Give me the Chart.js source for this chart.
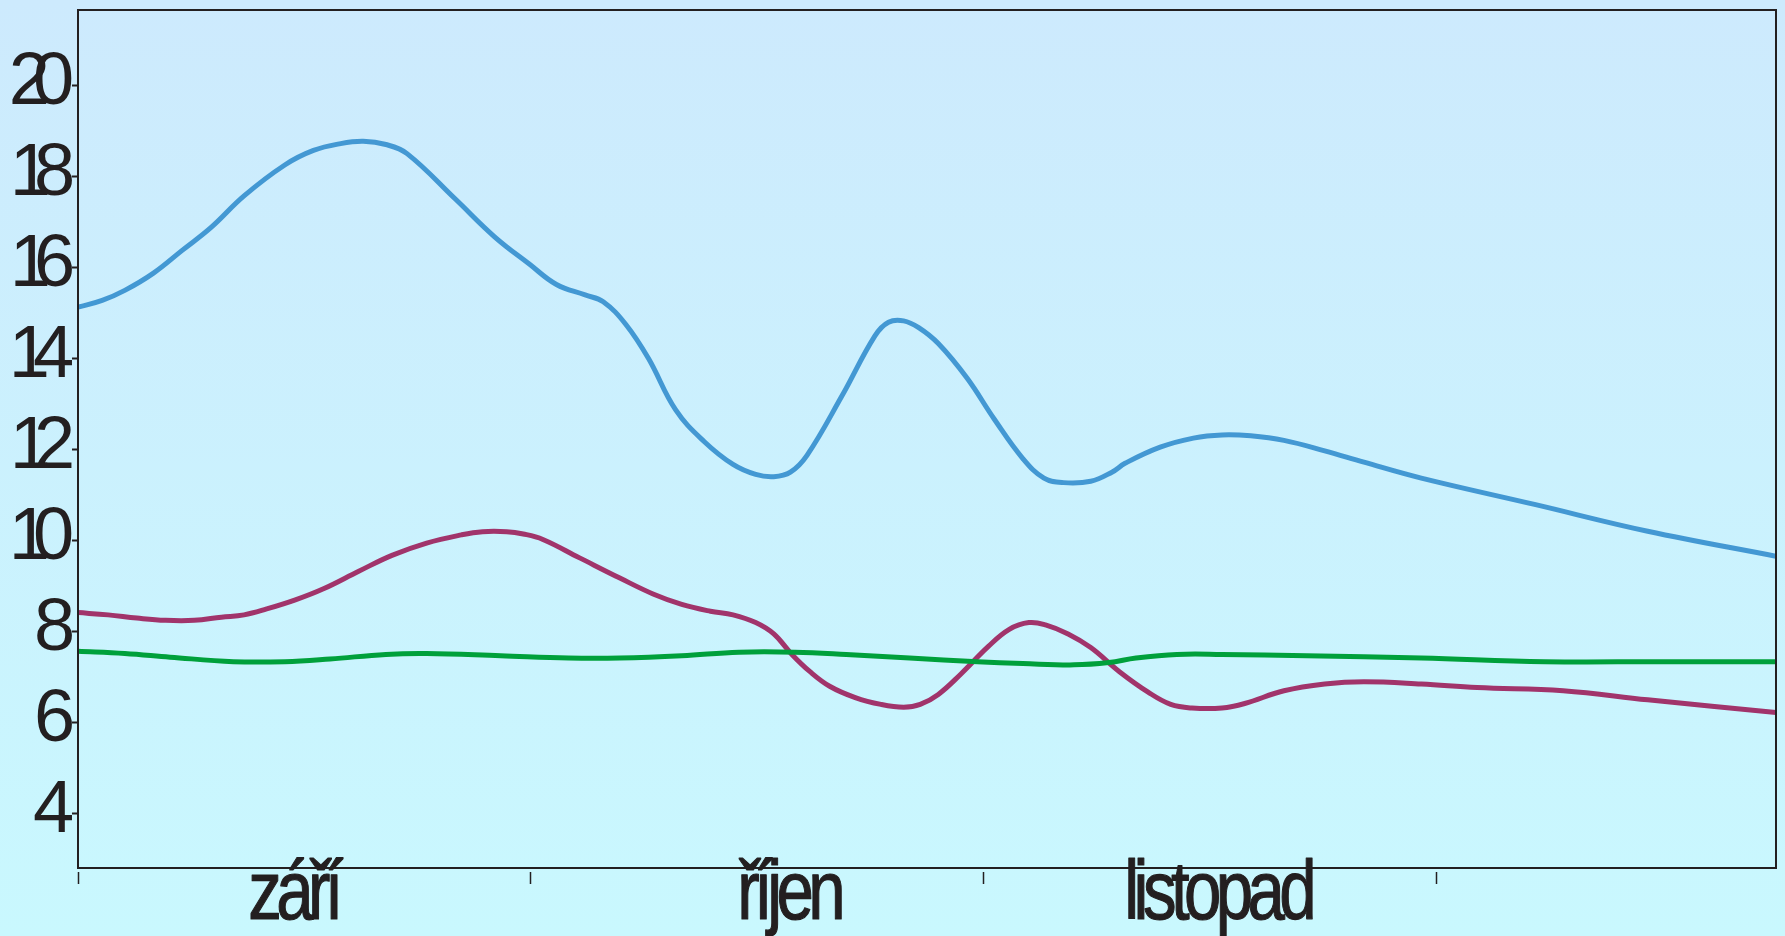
<!DOCTYPE html>
<html><head><meta charset="utf-8">
<script src="https://cdn.jsdelivr.net/npm/chart.js@4/dist/chart.umd.min.js"></script>
<style>
html,body{margin:0;padding:0;width:1785px;height:936px;overflow:hidden;background:linear-gradient(to bottom,#cdeafd,#c9f8fe);}
canvas{display:block;}
</style></head><body>
<canvas id="c" width="1785" height="936"></canvas>
<script>
// ---- data ----
const monthLabels = ['září', 'říjen', 'listopad'];
const monthLabelDays = [14.5, 47.2, 75.7];
const monthTickDays = [0, 30, 60, 90];
const yTickValues = [4, 6, 8, 10, 12, 14, 16, 18, 20];

const blueDays = [0, 1.6, 3.1, 5.0, 6.9, 8.8, 11.0, 13.7, 15.6, 17.4, 18.9, 20.4, 21.8, 25.0, 27.6, 29.9, 31.7, 33.6, 34.8, 36.3, 37.8, 39.6, 41.5, 43.4, 44.9, 46.1, 47.2, 48.3, 50.6, 52.8, 53.7, 54.7, 55.7, 57.0, 58.9, 60.7, 62.6, 64.0, 65.3, 67.1, 68.5, 69.4, 71.7, 73.9, 75.8, 77.7, 79.9, 82.6, 85.2, 89.0, 96.5, 104.0, 112.5];
const blueValues = [15.13, 15.28, 15.5, 15.88, 16.38, 16.88, 17.58, 18.26, 18.58, 18.73, 18.78, 18.71, 18.51, 17.51, 16.68, 16.08, 15.63, 15.40, 15.25, 14.75, 14.0, 12.87, 12.17, 11.67, 11.45, 11.4, 11.5, 11.87, 13.17, 14.5, 14.8, 14.83, 14.68, 14.33, 13.57, 12.67, 11.8, 11.37, 11.27, 11.3, 11.5, 11.7, 12.05, 12.25, 12.32, 12.3, 12.2, 11.97, 11.72, 11.37, 10.79, 10.2, 9.65];

const magDays = [0, 2.0, 3.9, 5.8, 7.7, 9.5, 11.0, 12.5, 14.4, 16.3, 18.6, 20.8, 23.1, 25.4, 26.8, 28.4, 29.5, 30.8, 33.2, 35.9, 38.1, 40.0, 41.9, 43.4, 44.9, 46.1, 47.3, 48.5, 49.8, 51.5, 53.2, 54.7, 55.8, 57.0, 58.5, 60.3, 61.7, 63.0, 64.1, 65.6, 67.1, 69.0, 70.9, 72.4, 73.8, 75.8, 77.3, 79.9, 82.6, 85.2, 89.0, 92.7, 98.4, 104.0, 112.5];
const magValues = [8.41, 8.36, 8.29, 8.24, 8.24, 8.31, 8.36, 8.49, 8.69, 8.94, 9.32, 9.67, 9.94, 10.12, 10.19, 10.19, 10.14, 10.02, 9.62, 9.17, 8.82, 8.59, 8.44, 8.36, 8.19, 7.94, 7.49, 7.11, 6.79, 6.54, 6.39, 6.33, 6.39, 6.61, 7.06, 7.66, 8.04, 8.19, 8.14, 7.94, 7.64, 7.11, 6.66, 6.39, 6.31, 6.31, 6.41, 6.69, 6.84, 6.89, 6.84, 6.76, 6.69, 6.49, 6.21];

const greenDays = [0, 3.1, 6.1, 10.3, 13.7, 16.7, 20.4, 23.1, 28.0, 32.5, 35.9, 40.0, 43.8, 47.5, 50.9, 55.1, 59.6, 62.6, 66.0, 68.3, 70.1, 72.8, 75.8, 81.4, 89.0, 97.2, 104.8, 112.5];
const greenValues = [7.56, 7.51, 7.43, 7.33, 7.33, 7.39, 7.49, 7.51, 7.46, 7.41, 7.41, 7.46, 7.54, 7.54, 7.49, 7.41, 7.33, 7.29, 7.26, 7.31, 7.41, 7.49, 7.49, 7.46, 7.41, 7.33, 7.33, 7.33];

const TEXT = '#231f20';
const pts = (xs, ys) => xs.map((x, i) => ({x: x, y: ys[i]}));

const framePlugin = {
  id: 'frame',
  afterDraw(chart) {
    const ctx = chart.ctx, a = chart.chartArea;
    ctx.save();
    ctx.strokeStyle = TEXT; ctx.lineWidth = 2;
    ctx.strokeRect(a.left, a.top, a.right - a.left, a.bottom - a.top);
    // y tick labels
    const yS = chart.scales.y;
    ctx.fillStyle = TEXT;
    ctx.font = '74px "Liberation Sans", Arial, sans-serif';
    ctx.textAlign = 'left'; ctx.textBaseline = 'alphabetic';
    ctx.letterSpacing = '-17px';
    yTickValues.forEach(v => {
      const s = String(v);
      const m = ctx.measureText(s);
      const py = yS.getPixelForValue(v);
      ctx.fillText(s, a.left - 6 - m.actualBoundingBoxRight, py + 18.5);
    });
    // x month labels
    const xS = chart.scales.x;
    ctx.font = '84px "Liberation Sans", Arial, sans-serif';
    ctx.letterSpacing = '-7px';
    ctx.strokeStyle = TEXT; ctx.lineWidth = 1.2; ctx.lineJoin = 'round';
    monthLabels.forEach((lab, i) => {
      const px = xS.getPixelForValue(monthLabelDays[i]);
      const m = ctx.measureText(lab);
      const c = (m.actualBoundingBoxRight - m.actualBoundingBoxLeft) / 2;
      ctx.save();
      ctx.translate(px, 919);
      ctx.scale(0.8, 1);
      ctx.fillText(lab, -c, 0);
      ctx.strokeText(lab, -c, 0);
      ctx.restore();
    });
    ctx.restore();
  }
};

new Chart(document.getElementById('c'), {
  type: 'line',
  data: {
    datasets: [
      {data: pts(blueDays, blueValues), borderColor: '#4398d3', order: 2},
      {data: pts(magDays, magValues), borderColor: '#a1346b', order: 1},
      {data: pts(greenDays, greenValues), borderColor: '#00a03b', order: 0}
    ]
  },
  options: {
    responsive: false,
    animation: false,
    devicePixelRatio: 1,
    layout: {padding: {top: 10, right: 9, left: 0, bottom: 0}},
    elements: {
      line: {borderWidth: 5, tension: 0.4, fill: false, borderCapStyle: 'butt', borderJoinStyle: 'round'},
      point: {radius: 0, hoverRadius: 0}
    },
    plugins: {legend: {display: false}, tooltip: {enabled: false}},
    events: [],
    scales: {
      x: {
        type: 'linear', min: 0, max: 112.5,
        afterBuildTicks: s => { s.ticks = monthTickDays.map(v => ({value: v})); },
        afterFit: s => { s.height = 68; },
        ticks: {display: false},
        border: {display: false},
        grid: {drawOnChartArea: false, drawTicks: true, tickLength: 16, tickColor: TEXT, tickWidth: 1.5,
               tickBorderDash: [12, 4], tickBorderDashOffset: 12}
      },
      y: {
        type: 'linear', min: 2.79, max: 21.67,
        afterBuildTicks: s => { s.ticks = yTickValues.map(v => ({value: v})); },
        afterFit: s => { s.width = 78; },
        ticks: {display: false},
        border: {display: false},
        grid: {drawOnChartArea: false, drawTicks: true, tickLength: 6, tickColor: TEXT, tickWidth: 2}
      }
    }
  },
  plugins: [framePlugin]
});
</script>
</body></html>
